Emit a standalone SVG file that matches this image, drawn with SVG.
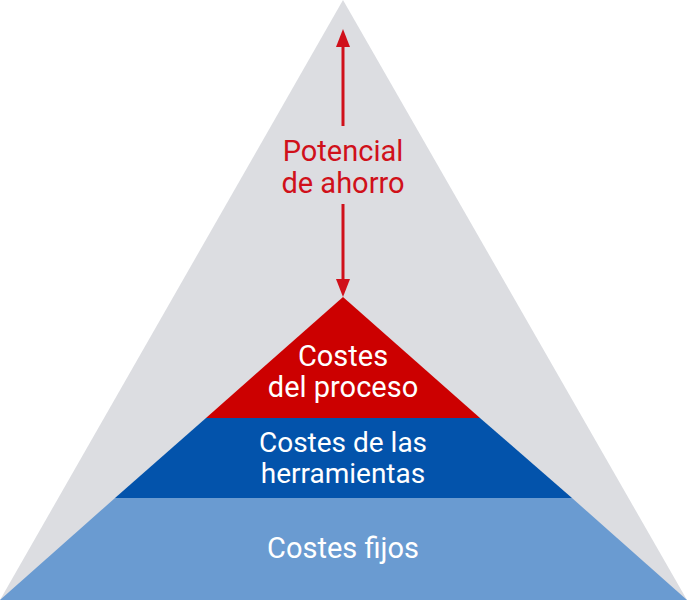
<svg xmlns="http://www.w3.org/2000/svg" width="687" height="600" viewBox="0 0 687 600">
<style>
  .lbl { font-family: Roboto, "Liberation Sans", sans-serif; font-size: 29px; text-anchor: middle; fill: #ffffff; }
  .sm { font-size: 28px; }
  .red { fill: #d0101a; }
  .shaft { stroke: #d0101a; stroke-width: 3; }
  .head { fill: #d0101a; }
</style>
<rect width="687" height="600" fill="#ffffff"/>
<g id="potencial">
  <polygon points="343,0 687,600 0,600" fill="#dcdde1"/>
  <text class="lbl red" x="343" y="161">Potencial</text>
  <text class="lbl red" x="343" y="193">de ahorro</text>
</g>
<g id="costes-fijos">
  <polygon points="115,498 572,498 687,600 0,600" fill="#6a9bd1"/>
  <text class="lbl" x="343" y="558">Costes fijos</text>
</g>
<g id="costes-herramientas">
  <polygon points="206,418 480,418 572,498 115,498" fill="#0353ab"/>
  <text class="lbl sm" x="343" y="452">Costes de las</text>
  <text class="lbl sm" x="343" y="483">herramientas</text>
</g>
<g id="costes-proceso">
  <polygon points="343,297 480,418 206,418" fill="#cc0000"/>
  <text class="lbl" x="343" y="366">Costes</text>
  <text class="lbl" x="343" y="397">del proceso</text>
</g>
<g id="connectors">
  <line class="shaft" x1="343" y1="44" x2="343" y2="126"/>
  <polygon class="head" points="343,29 336,47 350,47"/>
  <line class="shaft" x1="343" y1="204" x2="343" y2="282"/>
  <polygon class="head" points="343,297 336,279 350,279"/>
</g>
</svg>
